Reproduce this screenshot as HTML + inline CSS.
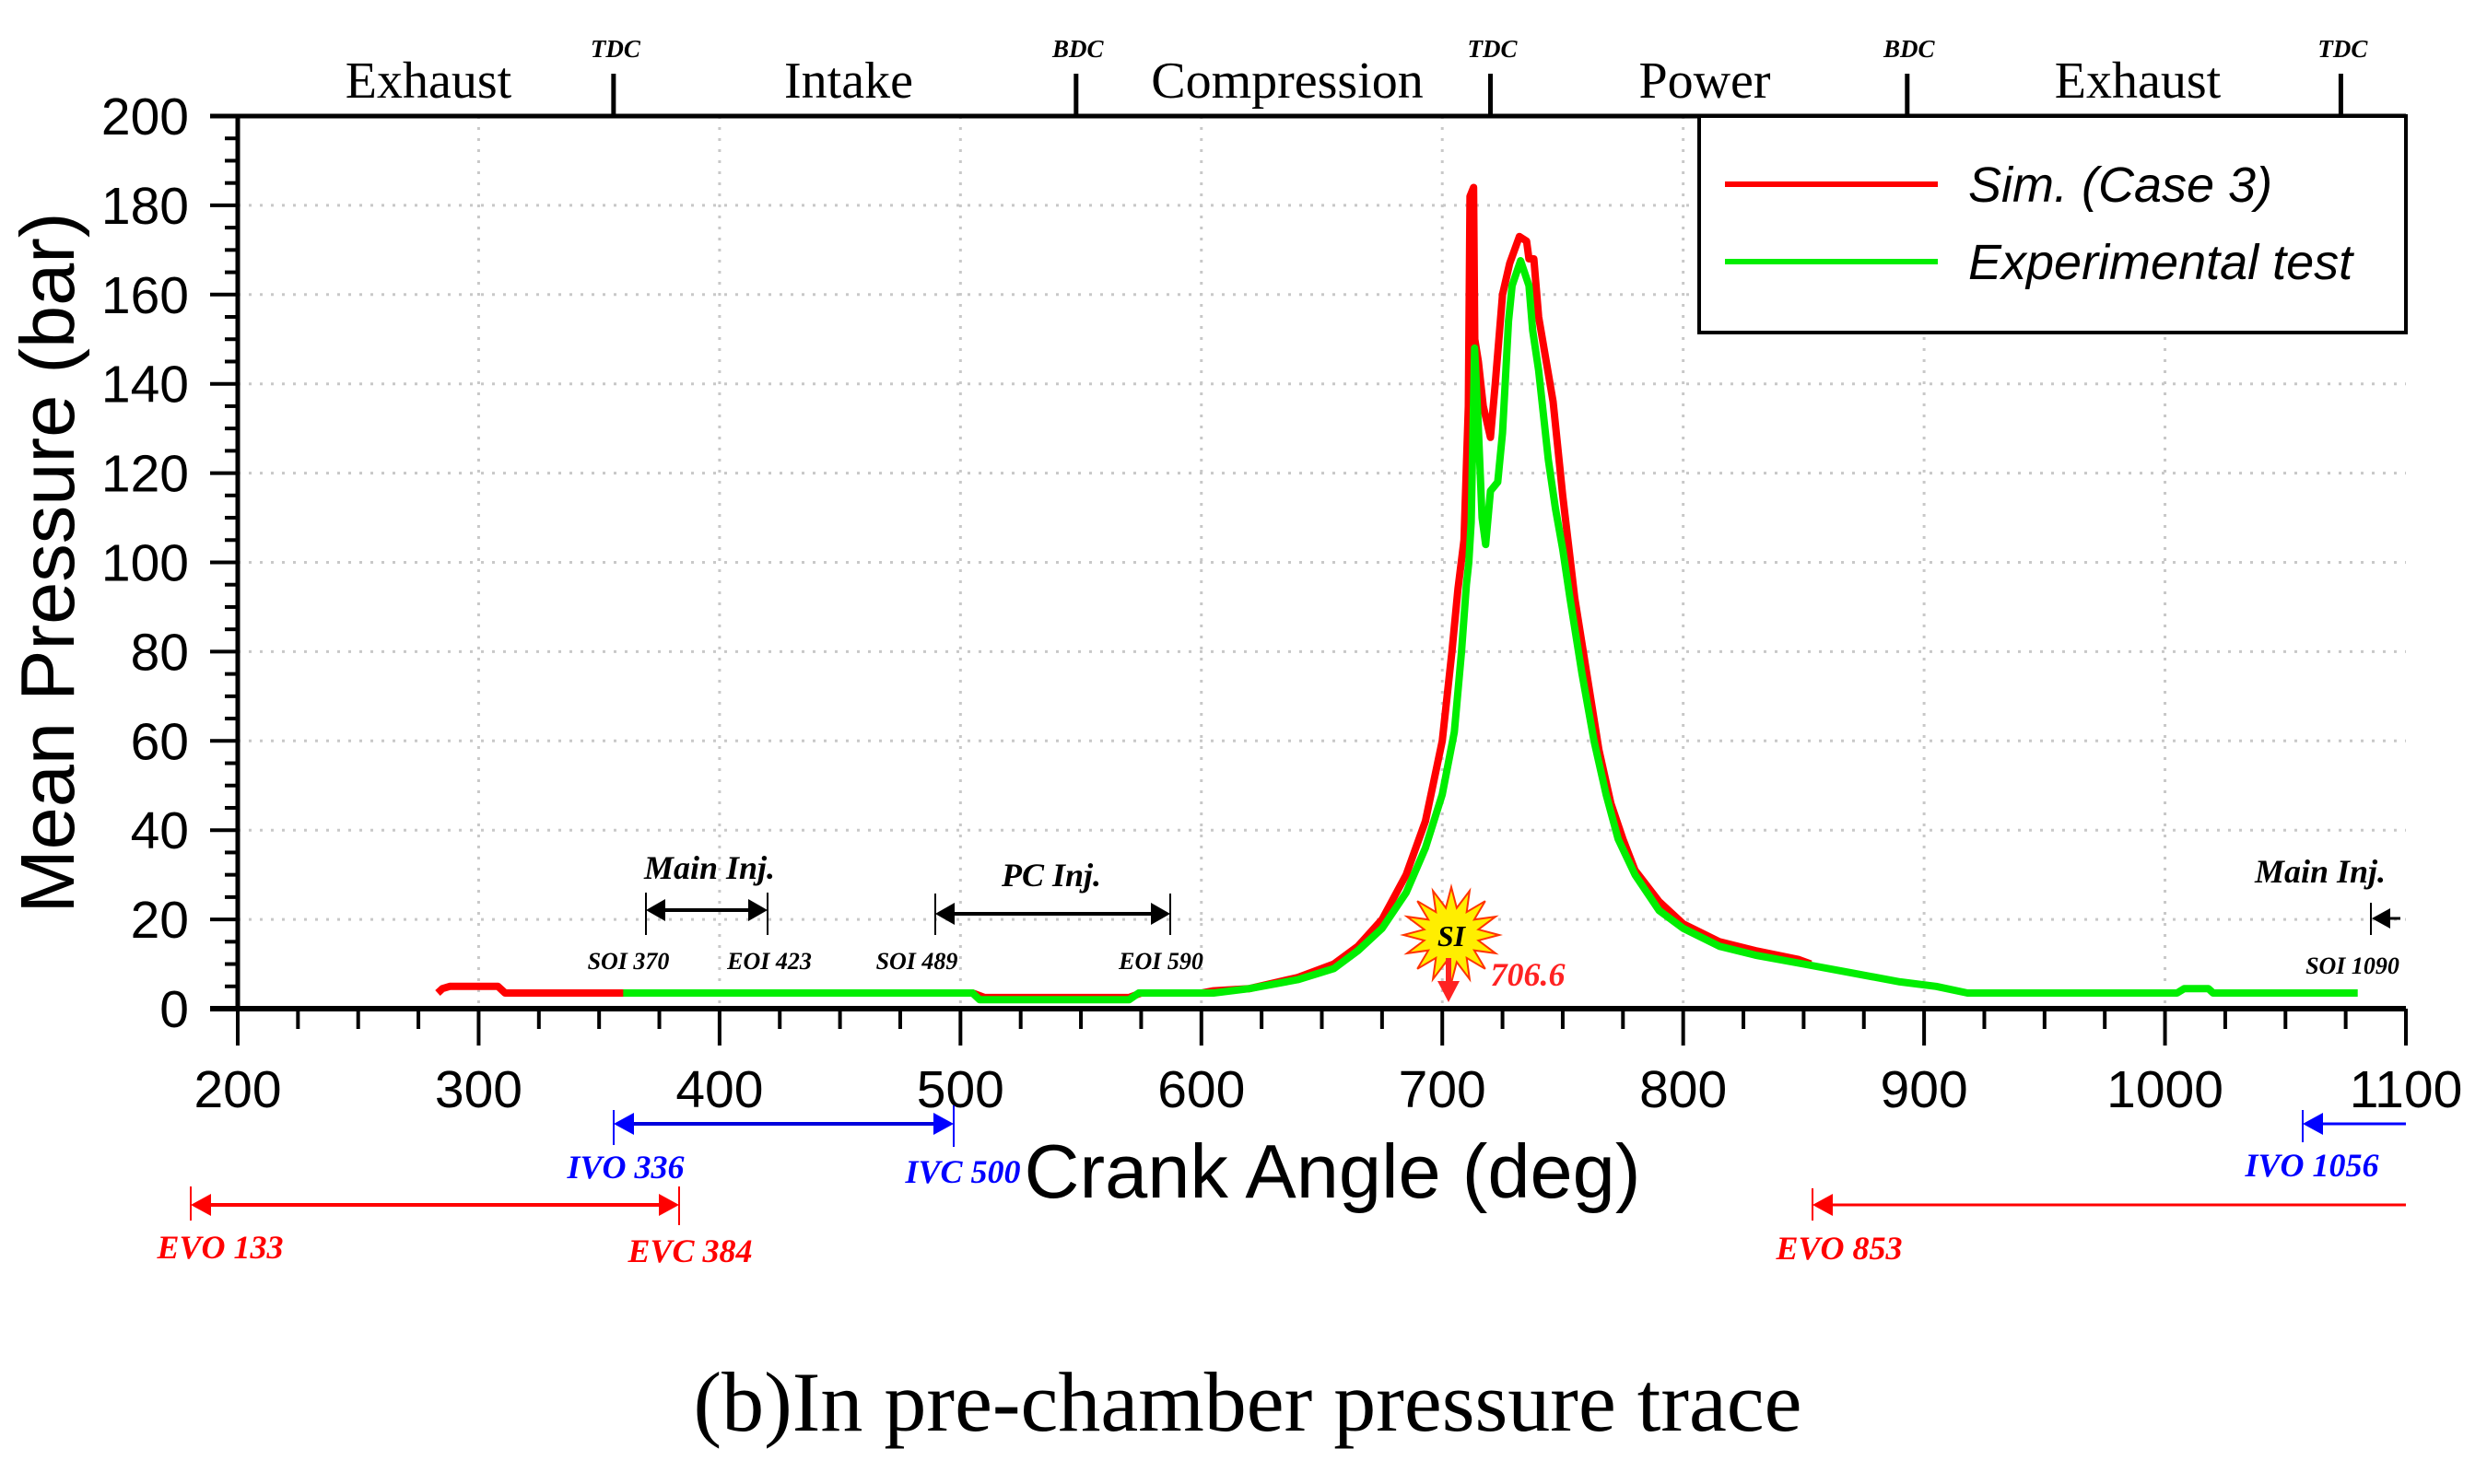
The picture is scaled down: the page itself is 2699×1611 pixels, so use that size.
<!DOCTYPE html>
<html><head><meta charset="utf-8"><style>
html,body{margin:0;padding:0;background:#fff;}
svg{display:block;}
.tk{font-family:"Liberation Sans",Arial,sans-serif;font-size:57px;fill:#000;}
.ph{font-family:"Liberation Serif",serif;font-size:56px;fill:#000;}
.tdc{font-family:"Liberation Serif",serif;font-size:27px;font-style:italic;font-weight:bold;fill:#000;}
.an{font-family:"Liberation Serif",serif;font-style:italic;font-weight:bold;}
</style></head><body>
<svg id="chart" width="2699" height="1611" viewBox="0 0 2699 1611" xmlns="http://www.w3.org/2000/svg">
<g id="grid"></g>
<g id="series"></g>
<g id="axes"></g>
<g id="legend">
  <rect x="1844" y="126" width="767" height="235" fill="#fff" stroke="#000" stroke-width="4"/>
  <line x1="1872" y1="200" x2="2103" y2="200" stroke="#ff0000" stroke-width="6"/>
  <text x="2136" y="219" font-family="Liberation Sans, sans-serif" font-size="54" font-style="italic">Sim. (Case 3)</text>
  <line x1="1872" y1="284" x2="2103" y2="284" stroke="#00ee00" stroke-width="6"/>
  <text x="2136" y="303" font-family="Liberation Sans, sans-serif" font-size="54" font-style="italic">Experimental test</text>
</g>
<g id="annot">
  <text class="ph" x="465" y="106" text-anchor="middle">Exhaust</text>
  <text class="ph" x="921" y="106" text-anchor="middle">Intake</text>
  <text class="ph" x="1397" y="106" text-anchor="middle">Compression</text>
  <text class="ph" x="1850" y="106" text-anchor="middle">Power</text>
  <text class="ph" x="2320" y="106" text-anchor="middle">Exhaust</text>

  <text transform="translate(80,611) rotate(-90)" text-anchor="middle" font-family="Liberation Sans, sans-serif" font-size="83">Mean Pressure (bar)</text>
  <text x="1446" y="1300" text-anchor="middle" font-family="Liberation Sans, sans-serif" font-size="83">Crank Angle (deg)</text>
  <text x="1354" y="1553" text-anchor="middle" font-family="Liberation Serif, serif" font-size="92">(b)In pre-chamber pressure trace</text>

  <text class="an" x="770" y="954" text-anchor="middle" font-size="36">Main Inj.</text>
  <line x1="701" y1="969" x2="701" y2="1015" stroke="#000" stroke-width="2"/>
  <line x1="833" y1="969" x2="833" y2="1015" stroke="#000" stroke-width="2"/>
  <line x1="712" y1="988" x2="822" y2="988" stroke="#000" stroke-width="4"/>
  <polygon points="701,988 722,976 722,1000" fill="#000"/>
  <polygon points="833,988 812,976 812,1000" fill="#000"/>
  <text class="an" x="682" y="1052" text-anchor="middle" font-size="26">SOI 370</text>
  <text class="an" x="835" y="1052" text-anchor="middle" font-size="26">EOI 423</text>
  <text class="an" x="1141" y="962" text-anchor="middle" font-size="36">PC Inj.</text>
  <line x1="1015" y1="970" x2="1015" y2="1015" stroke="#000" stroke-width="2"/>
  <line x1="1270" y1="970" x2="1270" y2="1015" stroke="#000" stroke-width="2"/>
  <line x1="1025" y1="992" x2="1260" y2="992" stroke="#000" stroke-width="4"/>
  <polygon points="1015,992 1036,980 1036,1004" fill="#000"/>
  <polygon points="1270,992 1249,980 1249,1004" fill="#000"/>
  <text class="an" x="995" y="1052" text-anchor="middle" font-size="26">SOI 489</text>
  <text class="an" x="1260" y="1052" text-anchor="middle" font-size="26">EOI 590</text>
  <text class="an" x="2518" y="958" text-anchor="middle" font-size="36">Main Inj.</text>
  <line x1="2573" y1="980" x2="2573" y2="1015" stroke="#000" stroke-width="2"/>
  <line x1="2580" y1="997" x2="2605" y2="997" stroke="#000" stroke-width="3"/>
  <polygon points="2574,997 2594,986 2594,1008" fill="#000"/>
  <text class="an" x="2553" y="1057" text-anchor="middle" font-size="26">SOI 1090</text>
  <polygon id="star" fill="#ffee00" stroke="#ff3300" stroke-width="2"/>
  <text class="an" x="1575" y="1027" text-anchor="middle" font-size="32">SI</text>
  <line x1="1572" y1="1040" x2="1572" y2="1070" stroke="#ff2222" stroke-width="6"/>
  <polygon points="1560,1065 1584,1065 1572,1088" fill="#ff2222"/>
  <text class="an" x="1658" y="1070" text-anchor="middle" font-size="36" fill="#ff2222">706.6</text>
  <line x1="666" y1="1205" x2="666" y2="1243" stroke="#0000ff" stroke-width="2"/>
  <line x1="1035" y1="1200" x2="1035" y2="1245" stroke="#0000ff" stroke-width="2"/>
  <line x1="676" y1="1220" x2="1025" y2="1220" stroke="#0000dd" stroke-width="4"/>
  <polygon points="666,1220 688,1208 688,1232" fill="#0000ff"/>
  <polygon points="1035,1220 1013,1208 1013,1232" fill="#0000ff"/>
  <text class="an" x="679" y="1279" text-anchor="middle" font-size="36" fill="#0000ff">IVO 336</text>
  <text class="an" x="1045" y="1284" text-anchor="middle" font-size="36" fill="#0000ff">IVC 500</text>
  <line x1="2499" y1="1205" x2="2499" y2="1240" stroke="#0000ff" stroke-width="2"/>
  <line x1="2505" y1="1220" x2="2611" y2="1220" stroke="#0000ff" stroke-width="3"/>
  <polygon points="2499,1220 2521,1208 2521,1232" fill="#0000ff"/>
  <text class="an" x="2509" y="1277" text-anchor="middle" font-size="36" fill="#0000ff">IVO 1056</text>
  <line x1="207" y1="1288" x2="207" y2="1325" stroke="#ff0000" stroke-width="2"/>
  <line x1="737" y1="1288" x2="737" y2="1330" stroke="#ff0000" stroke-width="2"/>
  <line x1="217" y1="1308" x2="727" y2="1308" stroke="#ff0000" stroke-width="4"/>
  <polygon points="207,1308 229,1296 229,1320" fill="#ff0000"/>
  <polygon points="737,1308 715,1296 715,1320" fill="#ff0000"/>
  <text class="an" x="239" y="1366" text-anchor="middle" font-size="36" fill="#ff0000">EVO 133</text>
  <text class="an" x="749" y="1370" text-anchor="middle" font-size="36" fill="#ff0000">EVC 384</text>
  <line x1="1967" y1="1290" x2="1967" y2="1325" stroke="#ff0000" stroke-width="2"/>
  <line x1="1975" y1="1308" x2="2611" y2="1308" stroke="#ff0000" stroke-width="3"/>
  <polygon points="1967,1308 1989,1296 1989,1320" fill="#ff0000"/>
  <text class="an" x="1996" y="1367" text-anchor="middle" font-size="36" fill="#ff0000">EVO 853</text>
</g>
</svg>
<script>
const simX=[283,285,288,308,311,505,510,570,575,600,605,620,640,655,665,675,685,693,700,704,706.5,709,710.8,711.5,713,713.5,715,717,720,722,725,728,732,735,736,738,740,746,750,755,760,765,770,775,780,790,800,815,830,848,853];
const simY=[3.5,4.5,5,5,3.5,3.5,2.5,2.5,3.5,3.5,4,4.5,7,10,14,20,30,42,60,80,94,105,135,182,184,150,145,135,128,140,160,167,173,172,168,168,155,136,115,92,75,58,46,38,31,24,19,15,13,11,10];
const expX=[360,505,508,570,574,605,620,640,655,665,675,685,693,700,705,708,710,711,712,713.4,715,716.5,718,720,723,725,727.5,729,732.5,736,737.5,740,744,747,750,753,758,763,768,773,780,790,800,815,830,850,870,890,905,918,1005,1008,1018,1020,1080];
const expY=[3.5,3.5,2,2,3.5,3.5,4.5,6.5,9,13,18,26,36,48,62,80,95,100,109,148,130,110,104,116,118,129,154,162,167.6,162,152,143,123,112,103,92,75,60,48,38,30,22,18,14,12,10,8,6,5,3.5,3.5,4.5,4.5,3.5,3.5];
const xTicks=[200,300,400,500,600,700,800,900,1000,1100];
const yTicks=[0,20,40,60,80,100,120,140,160,180,200];
const strokeMarks=[{deg:356,label:"TDC"},{deg:548,label:"BDC"},{deg:720,label:"TDC"},{deg:893,label:"BDC"},{deg:1073,label:"TDC"}];

const L=258,R=2611,T=126,B=1095;
const X=v=>L+(v-200)/900*(R-L);
const Y=v=>B-v/200*(B-T);
const NS="http://www.w3.org/2000/svg";
function mk(tag,parent,attrs){const e=document.createElementNS(NS,tag);for(const k in attrs)e.setAttribute(k,attrs[k]);parent.appendChild(e);return e;}
const grid=document.getElementById('grid'),axes=document.getElementById('axes'),series=document.getElementById('series');

xTicks.forEach(v=>{if(v>200&&v<1100){const l=mk('line',grid,{x1:X(v),y1:T,x2:X(v),y2:B,stroke:'#c8c8c8','stroke-width':3,'stroke-dasharray':'3 9'});

}});
yTicks.forEach(v=>{if(v>0&&v<200){const l=mk('line',grid,{x1:L,y1:Y(v),x2:R,y2:Y(v),stroke:'#c8c8c8','stroke-width':3,'stroke-dasharray':'3 9'});

}});

function path(xs,ys,color,name){let d='';xs.forEach((x,i)=>{d+=(i?'L':'M')+X(x).toFixed(1)+','+Y(ys[i]).toFixed(1);});
const p=mk('path',series,{d:d,fill:'none',stroke:color,'stroke-width':8,'stroke-linejoin':'round'});

}
path(simX,simY,'#ff0000','sim-case3-line');
path(expX,expY,'#00ee00','experimental-line');

const ax1=mk('line',axes,{x1:L,y1:T,x2:L,y2:B,stroke:'#000','stroke-width':5});


const ax2=mk('line',axes,{x1:L-30,y1:B,x2:R,y2:B,stroke:'#000','stroke-width':6});


const ax3=mk('line',axes,{x1:L-30,y1:T,x2:R,y2:T,stroke:'#000','stroke-width':5});



for(let v=200;v<=1100;v+=25){const major=v%100===0;
const t=mk('line',axes,{x1:X(v),y1:B,x2:X(v),y2:B+(major?40:22),stroke:'#000','stroke-width':4});

}
xTicks.forEach(v=>{const t=mk('text',axes,{x:X(v),y:1202,'text-anchor':'middle','class':'tk','font-size':55});t.textContent=v;

});
for(let v=0;v<=200;v+=5){const major=v%20===0;
const t=mk('line',axes,{x1:L,y1:Y(v),x2:L-(major?30:14),y2:Y(v),stroke:'#000','stroke-width':4});

}
yTicks.forEach(v=>{const t=mk('text',axes,{x:205,y:Y(v)+20,'text-anchor':'end','class':'tk'});t.textContent=v;

});
strokeMarks.forEach(m=>{const l=mk('line',axes,{x1:X(m.deg),y1:T,x2:X(m.deg),y2:80,stroke:'#000','stroke-width':5});


const t=mk('text',axes,{x:X(m.deg)+2,y:62,'text-anchor':'middle','class':'tdc'});t.textContent=m.label;

});

const cx=1575,cy=1015;let pts=[];for(let i=0;i<32;i++){const r=i%2?30:52;const a=i*Math.PI/16;pts.push((cx+r*Math.cos(a)).toFixed(1)+','+(cy+r*Math.sin(a)).toFixed(1));}
document.getElementById('star').setAttribute('points',pts.join(' '));
</script>
</body></html>
